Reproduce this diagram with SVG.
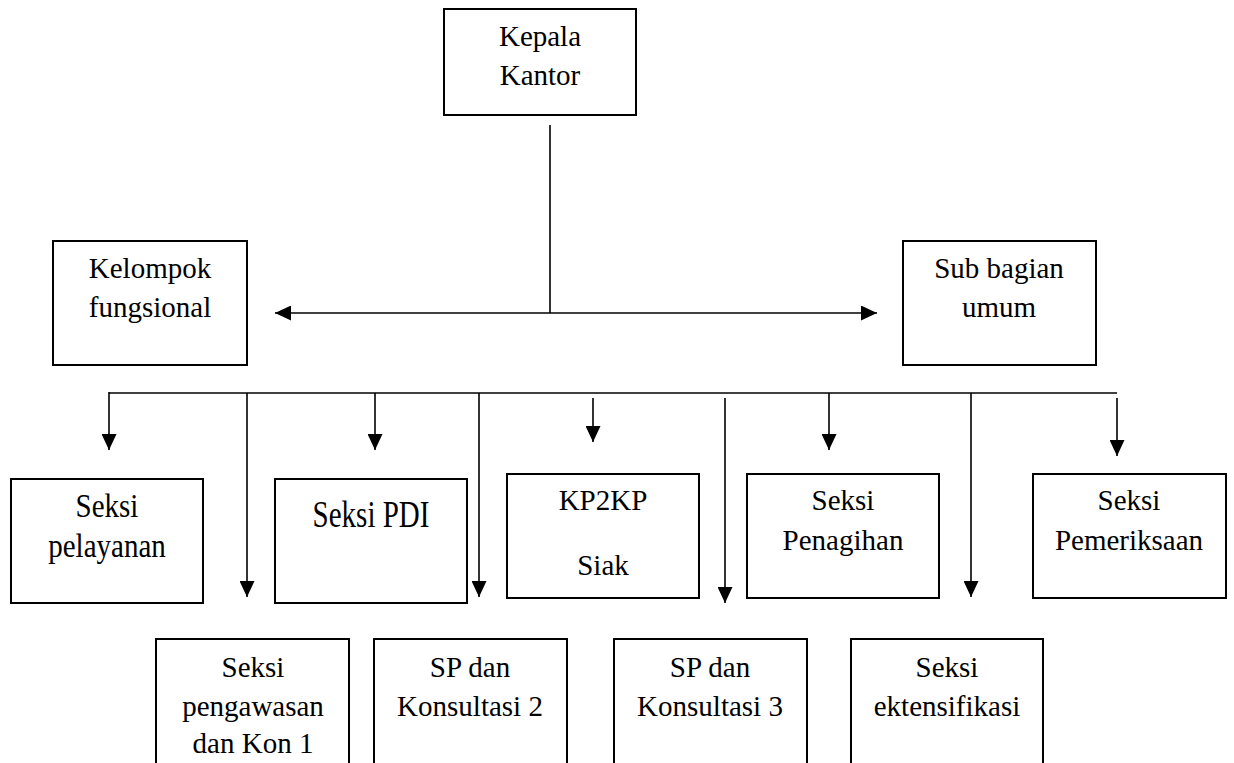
<svg xmlns="http://www.w3.org/2000/svg" width="1234" height="763" viewBox="0 0 1234 763">
<style>
  .box { fill: #ffffff; stroke: #000000; stroke-width: 2; }
  .lbl { font-family: "Liberation Serif", "Times New Roman", serif; font-size: 29px; fill: #000000; text-anchor: middle; }
  .ln { fill: none; stroke: #000000; stroke-width: 1.6; }
  .arr { fill: none; stroke: #000000; stroke-width: 1.6; marker-end: url(#ah); }
</style>
<defs>
  <marker id="ah" markerUnits="userSpaceOnUse" markerWidth="16" markerHeight="15" refX="16" refY="7.5" orient="auto">
    <path d="M0,0 L16,7.5 L0,15 Z" fill="#000000"/>
  </marker>
  <marker id="ahs" markerUnits="userSpaceOnUse" markerWidth="16" markerHeight="15" refX="0" refY="7.5" orient="auto">
    <path d="M16,0 L0,7.5 L16,15 Z" fill="#000000"/>
  </marker>
</defs>
<rect width="1234" height="763" fill="#ffffff"/>

<g id="connectors">
  <line class="ln" x1="550" y1="125" x2="550" y2="313"/>
  <line class="ln" x1="275" y1="313" x2="877" y2="313" marker-start="url(#ahs)" marker-end="url(#ah)"/>
  <line class="ln" x1="109" y1="393" x2="1117" y2="393"/>
  <line class="arr" x1="109" y1="392" x2="109" y2="450"/>
  <line class="arr" x1="247" y1="393" x2="247" y2="597"/>
  <line class="arr" x1="375" y1="393" x2="375" y2="450"/>
  <line class="arr" x1="479" y1="393" x2="479" y2="597"/>
  <line class="arr" x1="593" y1="398" x2="593" y2="442"/>
  <line class="arr" x1="725" y1="398" x2="725" y2="603"/>
  <line class="arr" x1="829" y1="393" x2="829" y2="450"/>
  <line class="arr" x1="971" y1="393" x2="971" y2="597"/>
  <line class="arr" x1="1117" y1="398" x2="1117" y2="456"/>
</g>

<g id="kepala-kantor">
  <rect class="box" x="444" y="9" width="192" height="106"/>
  <text class="lbl" x="540" y="46">Kepala</text>
  <text class="lbl" x="540" y="85">Kantor</text>
</g>
<g id="kelompok-fungsional">
  <rect class="box" x="53" y="241" width="194" height="124"/>
  <text class="lbl" x="150" y="278">Kelompok</text>
  <text class="lbl" x="150" y="317">fungsional</text>
</g>
<g id="sub-bagian-umum">
  <rect class="box" x="903" y="241" width="193" height="124"/>
  <text class="lbl" x="999" y="278">Sub bagian</text>
  <text class="lbl" x="999" y="317">umum</text>
</g>
<g id="seksi-pelayanan">
  <rect class="box" x="11" y="479" width="192" height="124"/>
  <text class="lbl" transform="translate(107,517) scale(1,1.17)">Seksi</text>
  <text class="lbl" transform="translate(107,557) scale(1,1.17)">pelayanan</text>
</g>
<g id="seksi-pdi">
  <rect class="box" x="275" y="479" width="192" height="124"/>
  <text class="lbl" transform="translate(371,527) scale(1,1.3)">Seksi PDI</text>
</g>
<g id="kp2kp-siak">
  <rect class="box" x="507" y="474" width="192" height="124"/>
  <text class="lbl" x="603" y="510">KP2KP</text>
  <text class="lbl" x="603" y="575">Siak</text>
</g>
<g id="seksi-penagihan">
  <rect class="box" x="747" y="474" width="192" height="124"/>
  <text class="lbl" x="843" y="510">Seksi</text>
  <text class="lbl" x="843" y="550">Penagihan</text>
</g>
<g id="seksi-pemeriksaan">
  <rect class="box" x="1033" y="474" width="193" height="124"/>
  <text class="lbl" x="1129" y="510">Seksi</text>
  <text class="lbl" x="1129" y="550">Pemeriksaan</text>
</g>
<g id="seksi-pengawasan">
  <rect class="box" x="156" y="639" width="193" height="130"/>
  <text class="lbl" x="253" y="677">Seksi</text>
  <text class="lbl" x="253" y="716">pengawasan</text>
  <text class="lbl" x="253" y="753">dan Kon 1</text>
</g>
<g id="sp-konsultasi-2">
  <rect class="box" x="374" y="639" width="193" height="130"/>
  <text class="lbl" x="470" y="677">SP dan</text>
  <text class="lbl" x="470" y="716">Konsultasi 2</text>
</g>
<g id="sp-konsultasi-3">
  <rect class="box" x="614" y="639" width="193" height="130"/>
  <text class="lbl" x="710" y="677">SP dan</text>
  <text class="lbl" x="710" y="716">Konsultasi 3</text>
</g>
<g id="seksi-ektensifikasi">
  <rect class="box" x="851" y="639" width="192" height="130"/>
  <text class="lbl" x="947" y="677">Seksi</text>
  <text class="lbl" x="947" y="716">ektensifikasi</text>
</g>
</svg>
